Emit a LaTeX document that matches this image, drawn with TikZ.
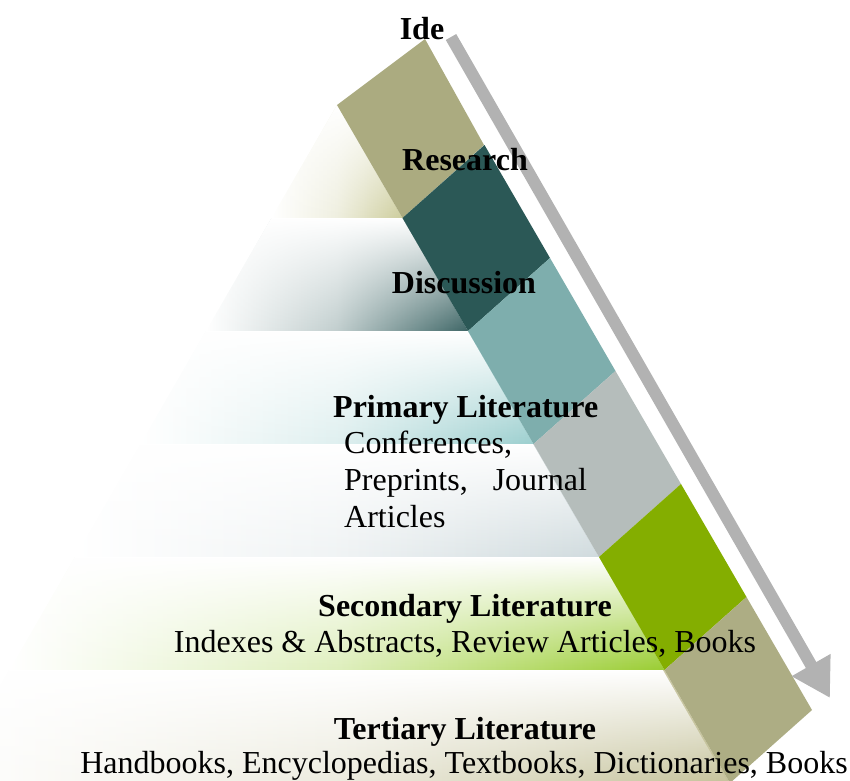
\documentclass[tikz,border=0pt]{standalone}
\usepackage{fontspec}
\setmainfont{Liberation Serif}
\usetikzlibrary{arrows.meta,fadings}

\definecolor{stripA}{HTML}{ABAB80}
\definecolor{stripB}{HTML}{2B5856}
\definecolor{stripC}{HTML}{7EAEAD}
\definecolor{stripD}{HTML}{B5BDBB}
\definecolor{stripE}{HTML}{84AE00}
\definecolor{stripF}{HTML}{ADAD84}
\definecolor{bandA}{HTML}{CDCD9C}
\definecolor{bandB}{HTML}{3E6666}
\definecolor{bandC}{HTML}{9CCFCF}
\definecolor{bandD}{HTML}{D0DBDE}
\definecolor{bandE}{HTML}{9ACD32}
\definecolor{bandF}{HTML}{C5C29A}
\definecolor{arrowgray}{HTML}{B2B2B2}

\tikzfading[name=bandfade, top color=transparent!0, bottom color=transparent!100]

\begin{document}
\begin{tikzpicture}[x=1pt,y=-1pt,
  lbl/.style={font=\fontsize{32}{37}\selectfont\bfseries, inner sep=0pt, anchor=base},
  txt/.style={font=\fontsize{32}{37}\selectfont, inner sep=0pt, anchor=base},
  flowarrow/.style={line width=12pt, draw=arrowgray, -{Triangle[length=38pt,width=42pt]}}]
  \clip (0,0) rectangle (850,780);

  % Pyramid bands
  \foreach \i/\col in {0/bandA,1/bandB,2/bandC,3/bandD,4/bandE,5/bandF} {
    \shade[left color=white, right color=\col, middle color=\col!32!white]
      ({337-65.5*\i},{105+113*\i}) -- ({337+65.5*\i},{105+113*\i})
      -- ({337+65.5*(\i+1)},{105+113*(\i+1)}) -- ({337-65.5*(\i+1)},{105+113*(\i+1)}) -- cycle;
    \fill[white, path fading=bandfade]
      ({337-65.5*\i},{105+113*\i}) -- ({337+65.5*\i},{105+113*\i})
      -- ({337+65.5*(\i+1)},{105+113*(\i+1)}) -- ({337-65.5*(\i+1)},{105+113*(\i+1)}) -- cycle;
  }

  % Diagonal strip
  \fill[stripA] (337,105) -- (425,39) -- (484,145) -- (402.5,218) -- cycle;
  \foreach \i/\col in {1/stripB,2/stripC,3/stripD,4/stripE,5/stripF} {
    \fill[\col] ({337+65.5*\i},{105+113*\i}) -- ({419+65.5*\i},{32+113*\i})
      -- ({419+65.5*(\i+1)},{32+113*(\i+1)}) -- ({337+65.5*(\i+1)},{105+113*(\i+1)}) -- cycle;
  }

  % Arrow
  \coordinate (arrtop) at (451,37);
  \coordinate (arrtip) at (830,698);
  \draw[flowarrow] (arrtop) -- (arrtip);

  % Labels
  \node[lbl] (ide) at (422,39) {Ide};
  \node[lbl] (research) at (465,170) {Research};
  \node[lbl] (discussion) at (464,293) {Discussion};
  \node[lbl, anchor=base west] (primary) at (333,417) {Primary Literature};
  \node[txt, anchor=base west] (conf) at (344,453) {Conferences,};
  \node[txt, anchor=base west] (prep) at (344,490) {Preprints,\hspace{25pt}Journal};
  \node[txt, anchor=base west] (art) at (344,527) {Articles};
  \node[lbl] (secondary) at (465,616) {Secondary Literature};
  \node[txt] (secdesc) at (465,652) {Indexes \& Abstracts, Review Articles, Books};
  \node[lbl] (tertiary) at (465,739) {Tertiary Literature};
  \node[txt] (terdesc) at (464,773) {Handbooks, Encyclopedias, Textbooks, Dictionaries, Books};
\end{tikzpicture}
\end{document}
